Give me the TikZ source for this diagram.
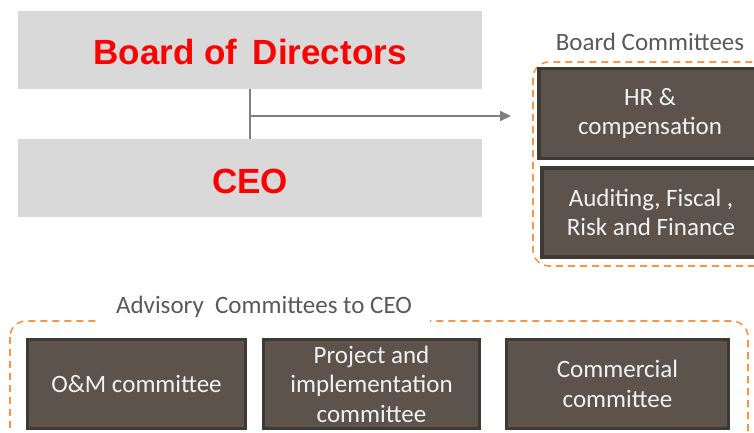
\documentclass[tikz,border=0pt]{standalone}
\usepackage{fontspec}
\setmainfont{Carlito}
\newfontfamily\arialfont{Liberation Sans}
\usetikzlibrary{arrows.meta}
\definecolor{lightbox}{HTML}{D9D9D9}
\definecolor{redtxt}{HTML}{FF0000}
\definecolor{darkfill}{HTML}{5C534C}
\definecolor{darkedge}{HTML}{3F3934}
\definecolor{boxtxt}{HTML}{F2F2F2}
\definecolor{labeltxt}{HTML}{595959}
\definecolor{orangedash}{HTML}{F79646}
\definecolor{linegray}{HTML}{7F7F7F}
\tikzset{
  mainbox/.style={fill=lightbox, draw=none, minimum width=464pt, minimum height=78pt, inner sep=0pt,
    text height=30pt, text depth=0pt, text=redtxt, font=\arialfont\bfseries\fontsize{35}{40}\selectfont},
  darkbox/.style={fill=darkfill, draw=darkedge, line width=3.5pt, inner sep=0pt, align=center,
    text=boxtxt, font=\fontsize{25}{29.5}\selectfont},
  grouplabel/.style={text=labeltxt, font=\fontsize{25}{29}\selectfont, inner sep=0pt},
  groupframe/.style={draw=orangedash, dashed, dash pattern=on 7pt off 5pt, line width=1.6pt, rounded corners=16pt},
  connector/.style={draw=linegray, line width=2pt}
}
\begin{document}
\begin{tikzpicture}[x=1pt,y=-1pt]
\useasboundingbox (0,0) rectangle (754,433);
\clip (0,0) rectangle (754,433);
% frames
\draw[groupframe] (533,62) rectangle (775,266);
\draw[groupframe] (10,321) rectangle (748,460);
% main boxes
\node[mainbox] (board) at (250,50) {Board of\, Directors};
\node[mainbox] (ceo) at (250,178) {CEO};
\draw[connector] (board.south) -- (ceo.north);
\coordinate (split) at (250,116);
\coordinate (arrowend) at (511,116);
\draw[connector, -{Triangle[length=11pt,width=10pt]}] (split) -- (arrowend);
% board committees
\node[grouplabel] (bclabel) at (650,42) {Board Committees};
\node[darkbox, minimum width=222pt, minimum height=90pt] (hr) at (650,113.5) {HR \&\\compensation};
\node[darkbox, minimum width=218pt, minimum height=89pt] (audit) at (651,212.5) {Auditing, Fiscal ,\\Risk and Finance};
% advisory
\node[grouplabel, fill=white, inner xsep=18pt, inner ysep=4pt] (advlabel) at (264,307) {Advisory\ \ Committees to CEO};
\node[darkbox, minimum width=218pt, minimum height=89pt] (om) at (136.5,384) {O\&M committee};
\node[darkbox, minimum width=216pt, minimum height=89pt] (proj) at (371.5,384) {Project and\\implementation\\committee};
\node[darkbox, minimum width=222pt, minimum height=89pt] (comm) at (617.5,384) {Commercial\\committee};
\end{tikzpicture}
\end{document}
